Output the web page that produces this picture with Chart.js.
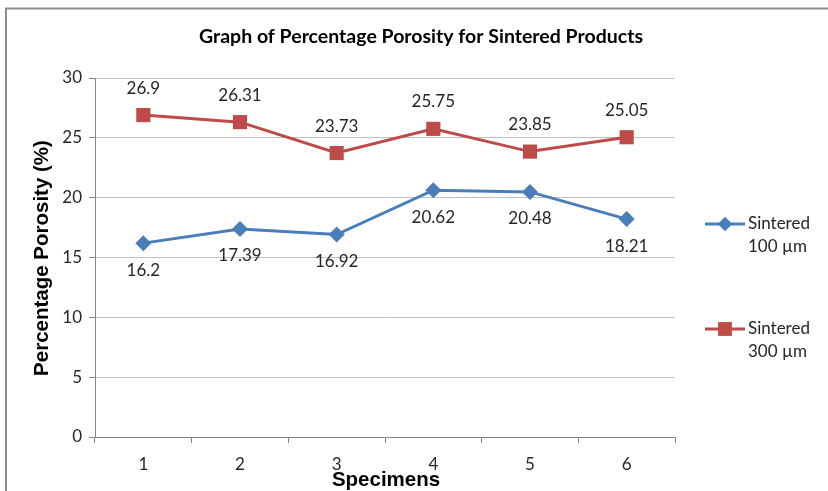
<!DOCTYPE html>
<html>
<head>
<meta charset="utf-8">
<script src="https://cdn.jsdelivr.net/npm/chart.js@4/dist/chart.umd.min.js"></script>
<style>
html,body{margin:0;padding:0;background:#fff;}
#c{display:block;}
</style>
</head>
<body>
<canvas id="c" width="828" height="491"></canvas>
<script>
const categories = ['1', '2', '3', '4', '5', '6'];
const sintered100 = [16.2, 17.39, 16.92, 20.62, 20.48, 18.21];
const sintered300 = [26.9, 26.31, 23.73, 25.75, 23.85, 25.05];
const seriesNames = [['Sintered', '100 µm'], ['Sintered', '300 µm']];
const yTicks = [0, 5, 10, 15, 20, 25, 30];

const BLUE = '#4a7ebb';
const RED = '#be4b48';
const TXT = '#262626';
const tickFont = '17px Lato, "Open Sans", sans-serif';

const decor = {
  id: 'decor',
  beforeDraw(chart) {
    const ctx = chart.ctx;
    ctx.save();
    ctx.strokeStyle = '#8c8c8c';
    ctx.lineWidth = 2;
    ctx.beginPath();
    ctx.moveTo(6, 491);
    ctx.lineTo(6, 8.5);
    ctx.lineTo(828, 8.5);
    ctx.stroke();
    ctx.restore();
  },
  afterDraw(chart) {
    const ctx = chart.ctx;
    const xs = chart.scales.x, ys = chart.scales.y;
    ctx.save();
    // title
    ctx.fillStyle = '#000';
    ctx.font = 'bold 19.5px Lato, "Open Sans", sans-serif';
    ctx.textAlign = 'center';
    ctx.textBaseline = 'middle';
    ctx.fillText('Graph of Percentage Porosity for Sintered Products', 421, 37);
    // axis titles
    ctx.font = 'bold 20.5px "Liberation Sans", Arial, sans-serif';
    ctx.fillText('Specimens', 386, 480);
    ctx.save();
    ctx.translate(42, 258);
    ctx.rotate(-Math.PI / 2);
    ctx.fillText('Percentage Porosity (%)', 0, 0);
    ctx.restore();
    // data labels
    ctx.font = tickFont;
    ctx.fillStyle = TXT;
    chart.data.datasets.forEach((ds, di) => {
      ds.data.forEach((v, i) => {
        const px = xs.getPixelForValue(i);
        const py = ys.getPixelForValue(v);
        const off = di === 0 ? 27 : -27;
        ctx.fillText(String(v), px, py + off);
      });
    });
    // legend
    const items = [
      {color: BLUE, style: 'rectRot', r: 7, y: 224},
      {color: RED, style: 'rect', r: 9.5, y: 329}
    ];
    items.forEach((it, k) => {
      ctx.strokeStyle = it.color;
      ctx.lineWidth = 3;
      ctx.beginPath();
      ctx.moveTo(705, it.y);
      ctx.lineTo(745, it.y);
      ctx.stroke();
      ctx.fillStyle = it.color;
      Chart.helpers.drawPoint(ctx, {pointStyle: it.style, radius: it.r, borderWidth: 0}, 725, it.y);
      ctx.fill();
      ctx.fillStyle = TXT;
      ctx.textAlign = 'left';
      ctx.font = tickFont;
      ctx.fillText(seriesNames[k][0], 748, it.y);
      ctx.fillText(seriesNames[k][1], 748, it.y + 23);
    });
    ctx.restore();
  }
};

new Chart(document.getElementById('c'), {
  type: 'line',
  data: {
    labels: categories,
    datasets: [
      {
        label: seriesNames[0].join(' '),
        data: sintered100,
        borderColor: BLUE,
        backgroundColor: BLUE,
        borderWidth: 3,
        pointStyle: 'rectRot',
        pointRadius: 8,
        pointBorderWidth: 0,
        tension: 0
      },
      {
        label: seriesNames[1].join(' '),
        data: sintered300,
        borderColor: RED,
        backgroundColor: RED,
        borderWidth: 3,
        pointStyle: 'rect',
        pointRadius: 10,
        pointBorderWidth: 0,
        tension: 0
      }
    ]
  },
  options: {
    responsive: false,
    devicePixelRatio: 1,
    animation: false,
    layout: {padding: {top: 78, right: 153, left: 0, bottom: 0}},
    plugins: {
      legend: {display: false},
      title: {display: false},
      tooltip: {enabled: false}
    },
    scales: {
      x: {
        offset: true,
        afterFit: s => { s.height = 54; },
        grid: {display: true, offset: true, drawOnChartArea: false, drawTicks: true, tickLength: 6, color: '#868686'},
        border: {display: true, color: '#868686', width: 1},
        ticks: {color: TXT, font: {family: 'Lato', size: 17}, padding: 11, maxRotation: 0}
      },
      y: {
        min: 0,
        max: 30,
        afterFit: s => { s.width = 95; },
        afterBuildTicks: s => { s.ticks = yTicks.map(v => ({value: v})); },
        grid: {color: '#bfbfbf', lineWidth: 1, drawTicks: true, tickLength: 6, tickColor: '#868686'},
        border: {display: true, color: '#868686', width: 1},
        ticks: {color: TXT, font: {family: 'Lato', size: 17}, padding: 7}
      }
    }
  },
  plugins: [decor]
});
</script>
</body>
</html>
